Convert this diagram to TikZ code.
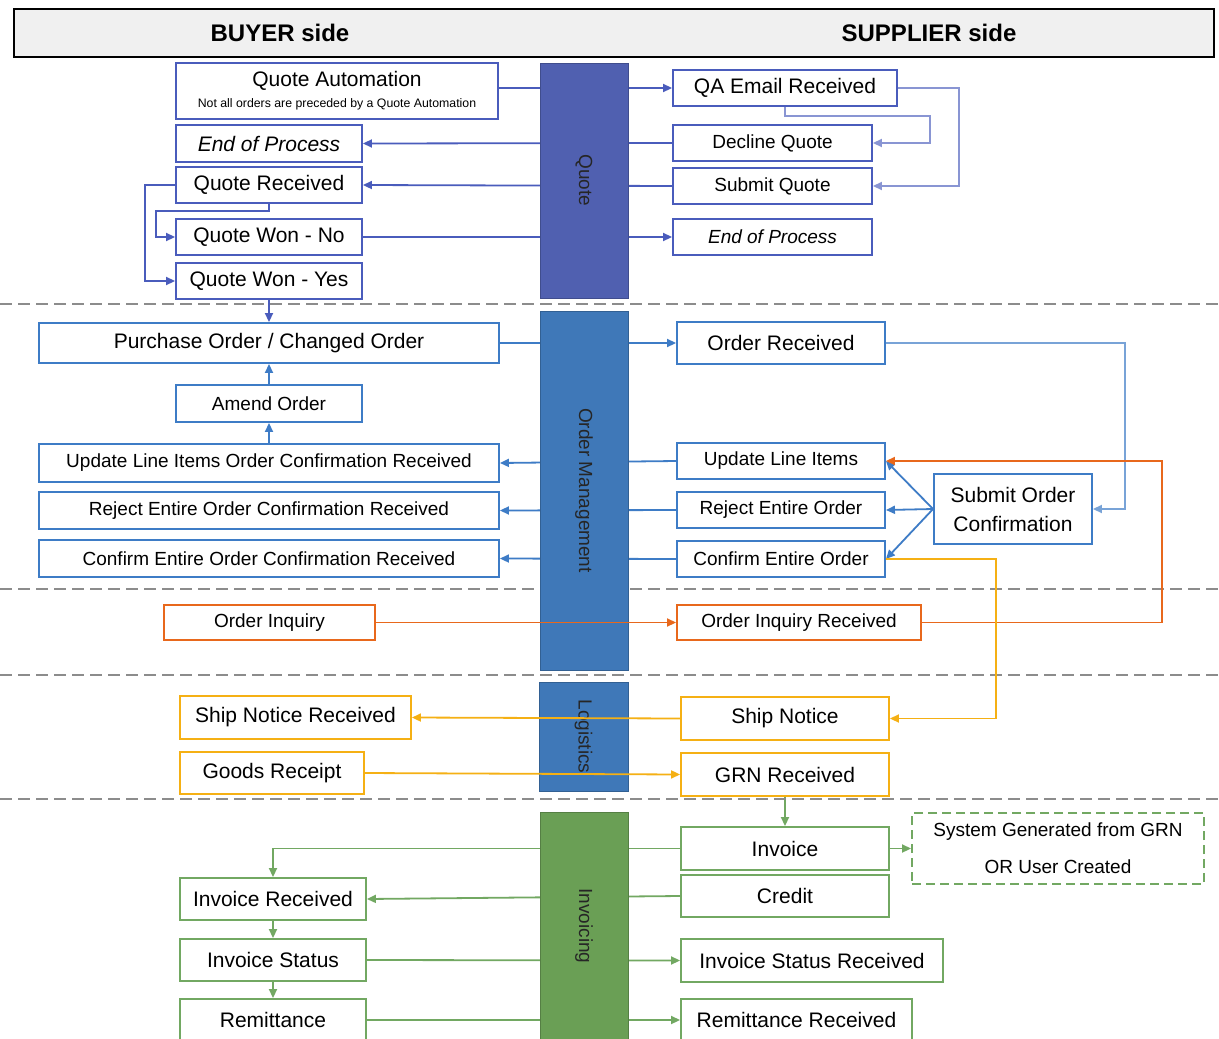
\documentclass[tikz,border=0pt]{standalone}
\usepackage{fontspec}
\setmainfont{Liberation Sans}
\usetikzlibrary{arrows.meta}
\definecolor{quote-band}{HTML}{5060B0}
\definecolor{quote-blue}{HTML}{4A5CBC}
\definecolor{order-band}{HTML}{3F78B8}
\definecolor{order-blue}{HTML}{3E7CC6}
\definecolor{inq-orange}{HTML}{E8681C}
\definecolor{log-yellow}{HTML}{F5B014}
\definecolor{inv-band}{HTML}{6A9F55}
\definecolor{inv-green}{HTML}{72A862}
\definecolor{div-gray}{HTML}{8C8C8C}

\begin{document}
\begin{tikzpicture}[x=1pt, y=-1pt,
    flowbox/.style={draw, fill=white, line width=1.9pt, inner sep=0pt, text=black,
                    font=\fontsize{21}{25}\selectfont},
    smalltxt/.style={font=\fontsize{19}{23}\selectfont},
    qbox/.style={flowbox, draw=quote-blue},
    obox/.style={flowbox, draw=order-blue},
    ibox/.style={flowbox, draw=inq-orange},
    ybox/.style={flowbox, draw=log-yellow},
    gbox/.style={flowbox, draw=inv-green},
    lane/.style={draw=#1!80!black, fill=#1, line width=1pt, rotate=-90, inner sep=0pt,
                 text=black!85, font=\fontsize{19}{23}\selectfont},
    arr/.style={-{Triangle[length=9pt, width=8pt]}, line width=1.8pt},
    qarr/.style={arr, quote-blue},
    qloop/.style={arr, quote-blue!65},
    oarr/.style={arr, order-blue},
    oloop/.style={arr, order-blue!70},
    iarr/.style={arr, inq-orange},
    yarr/.style={arr, log-yellow},
    garr/.style={arr, inv-green},
    divider/.style={div-gray, line width=1.8pt, dash pattern=on 12pt off 6pt},
]
    \path[fill=white] (0,0) rectangle (1219,1039);
    \useasboundingbox (0,0) rectangle (1219,1039);
    \clip (0,0) rectangle (1219,1039);

    % header
    \node[draw, line width=2pt, fill=black!6, minimum width=1200, minimum height=48, inner sep=0pt] (header) at (614,33) {};
    \node[font=\fontsize{24}{28}\selectfont\bfseries] (buyer) at (280,33) {BUYER side};
    \node[font=\fontsize{24}{28}\selectfont\bfseries] (supplier) at (929,33) {SUPPLIER side};

    % quote
    \node[qbox, minimum width=322, minimum height=56, align=center] (qauto) at (337,91)
        {Quote Automation\\[-4pt]{\fontsize{12.3}{14}\selectfont Not all orders are preceded by a Quote Automation}};
    \node[qbox, minimum width=186, minimum height=37] (qendl) at (269,143.5) {\itshape End of Process};
    \node[qbox, minimum width=186, minimum height=36] (qrecv) at (269,185) {Quote Received};
    \node[qbox, minimum width=186, minimum height=36] (qwonno) at (269,237) {Quote Won - No};
    \node[qbox, minimum width=186, minimum height=36] (qwonyes) at (269,281) {Quote Won - Yes};
    \node[qbox, minimum width=224, minimum height=36] (qaemail) at (785,88) {QA Email Received};
    \node[qbox, smalltxt, minimum width=199, minimum height=36] (qdecline) at (772.5,143) {Decline Quote};
    \node[qbox, smalltxt, minimum width=199, minimum height=36] (qsubmit) at (772.5,186) {Submit Quote};
    \node[qbox, smalltxt, minimum width=199, minimum height=36] (qendr) at (772.5,237) {\itshape End of Process};

    % order management
    \node[obox, minimum width=460, minimum height=40] (po) at (269,343) {Purchase Order / Changed Order};
    \node[obox, smalltxt, minimum width=186, minimum height=37] (amend) at (269,403.5) {Amend Order};
    \node[obox, smalltxt, minimum width=460, minimum height=38] (updrecv) at (269,463) {Update Line Items Order Confirmation Received};
    \node[obox, smalltxt, minimum width=460, minimum height=37] (rejrecv) at (269,510.5) {Reject Entire Order Confirmation Received};
    \node[obox, smalltxt, minimum width=460, minimum height=37] (confrecv) at (269,558.5) {Confirm Entire Order Confirmation Received};
    \node[obox, minimum width=208, minimum height=42] (ordrecv) at (781,343) {Order Received};
    \node[obox, smalltxt, minimum width=208, minimum height=36] (updli) at (781,461) {Update Line Items};
    \node[obox, smalltxt, minimum width=208, minimum height=36] (rejorder) at (781,510) {Reject Entire Order};
    \node[obox, smalltxt, minimum width=208, minimum height=36] (conforder) at (781,559) {Confirm Entire Order};
    \node[obox, font=\fontsize{21}{29}\selectfont, align=center, minimum width=158, minimum height=70] (submitoc) at (1013,509)
        {Submit Order\\Confirmation};

    % inquiry
    \node[ibox, smalltxt, minimum width=211, minimum height=35] (oinq) at (269.5,622.5) {Order Inquiry};
    \node[ibox, smalltxt, minimum width=244, minimum height=35] (oinqrecv) at (799,622.5) {Order Inquiry Received};

    % logistics
    \node[ybox, minimum width=231, minimum height=43] (shiprecv) at (295.5,717.5) {Ship Notice Received};
    \node[ybox, minimum width=184, minimum height=42] (goods) at (272,773) {Goods Receipt};
    \node[ybox, minimum width=208, minimum height=43] (ship) at (785,718.5) {Ship Notice};
    \node[ybox, minimum width=208, minimum height=43] (grn) at (785,774.5) {GRN Received};

    % invoicing
    \node[gbox, minimum width=208, minimum height=43] (inv) at (785,848.5) {Invoice};
    \node[gbox, minimum width=208, minimum height=42] (credit) at (785,896) {Credit};
    \node[gbox, dash pattern=on 9pt off 5pt, font=\fontsize{19}{37}\selectfont, align=center,
          minimum width=292, minimum height=71] (sysgen) at (1058,848.5) {System Generated from GRN\\OR User Created};
    \node[gbox, minimum width=186, minimum height=42] (invrecv) at (273,899) {Invoice Received};
    \node[gbox, minimum width=186, minimum height=42] (invstat) at (273,960) {Invoice Status};
    \node[gbox, minimum width=186, minimum height=42] (remit) at (273,1020) {Remittance};
    \node[gbox, minimum width=262, minimum height=43] (invstatrecv) at (812,960.5) {Invoice Status Received};
    \node[gbox, minimum width=231, minimum height=42] (remitrecv) at (796.5,1020) {Remittance Received};

    % quote flow
    \draw[qarr] (qauto.east |- qaemail.west) -- (qaemail.west);
    \draw[qarr] (qdecline.west) -- (qendl.east);
    \draw[qarr] (qsubmit.west) -- (qrecv.east);
    \draw[qarr] (qwonno.east) -- (qendr.west);
    \draw[qloop] (qaemail.south) -- ++(0,9) -| ([xshift=57pt]qdecline.east) -- (qdecline.east);
    \draw[qloop] (qaemail.east) -- ++(61,0) |- (qsubmit.east);
    \draw[qarr] (qrecv.west) -- ++(-30,0) |- (qwonyes.west);
    \draw[qarr] (qrecv.south) -- ++(0,7) -| ([xshift=-19pt]qwonno.west) -- (qwonno.west);
    \draw[qarr] (qwonyes.south) -- (po.north);

    % order flow
    \draw[oarr] (po.east) -- (ordrecv.west);
    \draw[oloop] (ordrecv.east) -- ++(239,0) |- (submitoc.east);
    \foreach \t in {updli, rejorder, conforder}
        \draw[oarr] (submitoc.west) -- (\t.east);
    \draw[oarr] (updli.west) -- (updrecv.east);
    \draw[oarr] (rejorder.west) -- (rejrecv.east);
    \draw[oarr] (conforder.west) -- (confrecv.east);
    \draw[oarr] (updrecv.north) -- (amend.south);
    \draw[oarr] (amend.north) -- (po.south);

    % invoice flow
    \draw[garr] (grn.south) -- (inv.north);
    \draw[garr] (inv.east) -- (sysgen.west);
    \draw[garr] (inv.west) -| (invrecv.north);
    \draw[garr] (credit.west) -- (invrecv.east);
    \draw[garr] (invrecv.south) -- (invstat.north);
    \draw[garr] (invstat.south) -- (remit.north);
    \draw[garr] (invstat.east) -- (invstatrecv.west);
    \draw[garr] (remit.east) -- (remitrecv.west);

    % dividers
    \foreach \y in {304, 589, 675, 799}
        \draw[divider] (0,\y) -- (1219,\y);

    % lanes
    \node[lane=quote-band, minimum width=235, minimum height=88] (qlane) at (584,180.5) {Quote};
    \node[lane=order-band, minimum width=359, minimum height=88] (olane) at (584,490.5) {Order Management};
    \node[lane=order-band, minimum width=109, minimum height=89] (llane) at (583.5,736.5) {Logistics};
    \node[lane=inv-band, minimum width=228, minimum height=88] (ilane) at (584,926) {Invoicing};

    % inquiry and logistics flow
    \draw[iarr] (oinq.east) -- (oinqrecv.west);
    \draw[iarr] (oinqrecv.east) -- ++(240,0) |- (updli.east);
    \draw[yarr] (conforder.east) -- ++(110,0) |- (ship.east);
    \draw[yarr] (ship.west) -- (shiprecv.east);
    \draw[yarr] (goods.east) -- (grn.west);
\end{tikzpicture}
\end{document}
